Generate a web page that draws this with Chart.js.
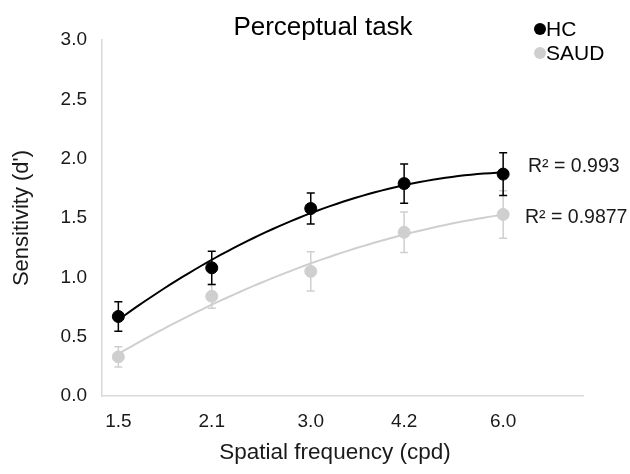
<!DOCTYPE html>
<html>
<head>
<meta charset="utf-8">
<script src="https://cdn.jsdelivr.net/npm/chart.js@4/dist/chart.umd.min.js"></script>
<style>
  html, body { margin: 0; padding: 0; background: #fff; }
  #wrap { width: 630px; height: 474px; }
</style>
</head>
<body>
<div id="wrap"><canvas id="chart" width="630" height="474"></canvas></div>
<script>
// Data
const freqs = [1.5, 2.1, 3.0, 4.2, 6.0];
const hcMean = [0.67, 1.08, 1.58, 1.79, 1.87];
const hcErr = [0.125, 0.14, 0.13, 0.165, 0.18];
const saudMean = [0.33, 0.84, 1.05, 1.38, 1.53];
const saudErr = [0.085, 0.10, 0.165, 0.17, 0.20];
const yTicks = [0, 0.5, 1.0, 1.5, 2.0, 2.5, 3.0];
const hcR2 = 'R² = 0.993';
const saudR2 = 'R² = 0.9877';

const FONT = 'Liberation Sans, Arial, sans-serif';
const hcColor = '#000000';
const saudColor = '#cfcfcf';
const axisColor = '#d9d9d9';
const textColor = '#1a1a1a';

// 2nd order polynomial trendline (in log2 of frequency, as on the axis)
function polyFit(xs, ys) {
    let s = [0, 0, 0, 0, 0], t = [0, 0, 0];
    xs.forEach((x, i) => {
        for (let k = 0; k < 5; k++) s[k] += Math.pow(x, k);
        for (let k = 0; k < 3; k++) t[k] += Math.pow(x, k) * ys[i];
    });
    const m = [[s[0], s[1], s[2], t[0]], [s[1], s[2], s[3], t[1]], [s[2], s[3], s[4], t[2]]];
    for (let i = 0; i < 3; i++) {
        for (let j = i + 1; j < 3; j++) {
            const f = m[j][i] / m[i][i];
            for (let k = i; k < 4; k++) m[j][k] -= f * m[i][k];
        }
    }
    const c = [0, 0, 0];
    for (let i = 2; i >= 0; i--) {
        let v = m[i][3];
        for (let k = i + 1; k < 3; k++) v -= m[i][k] * c[k];
        c[i] = v / m[i][i];
    }
    return c;
}

function trendPoints(means) {
    const lx = freqs.map(f => Math.log2(f));
    const c = polyFit(lx, means);
    const pts = [];
    const a = lx[0], b = lx[lx.length - 1];
    for (let i = 0; i <= 60; i++) {
        const x = a + (b - a) * i / 60;
        pts.push({ x: Math.pow(2, x), y: c[0] + c[1] * x + c[2] * x * x });
    }
    return pts;
}

const toPoints = (means) => freqs.map((f, i) => ({ x: f, y: means[i] }));

// error bars, title, legend, x title and R² labels
const extras = {
    id: 'extras',
    afterDatasetsDraw(chart) {
        const ctx = chart.ctx;
        const xs = chart.scales.x, ys = chart.scales.y;
        const bars = [[saudMean, saudErr, saudColor], [hcMean, hcErr, hcColor]];
        ctx.save();
        bars.forEach(([means, errs, col]) => {
            ctx.strokeStyle = col;
            ctx.lineWidth = 1.5;
            freqs.forEach((f, i) => {
                const px = xs.getPixelForValue(f);
                const top = ys.getPixelForValue(means[i] + errs[i]);
                const bot = ys.getPixelForValue(means[i] - errs[i]);
                ctx.beginPath();
                ctx.moveTo(px, top); ctx.lineTo(px, bot);
                ctx.moveTo(px - 4, top); ctx.lineTo(px + 4, top);
                ctx.moveTo(px - 4, bot); ctx.lineTo(px + 4, bot);
                ctx.stroke();
            });
        });
        ctx.restore();
    },
    afterDraw(chart) {
        const ctx = chart.ctx;
        ctx.save();
        ctx.fillStyle = '#000';
        ctx.font = '26px ' + FONT;
        ctx.textAlign = 'center';
        ctx.textBaseline = 'middle';
        ctx.fillText('Perceptual task', 323, 28);

        ctx.fillStyle = textColor;
        ctx.font = '22.5px ' + FONT;
        ctx.fillText('Spatial frequency (cpd)', 335, 453);

        // legend
        ctx.font = '21px ' + FONT;
        ctx.textAlign = 'left';
        [['HC', hcColor, 29], ['SAUD', saudColor, 53]].forEach(([lab, col, y]) => {
            ctx.fillStyle = col;
            ctx.beginPath();
            ctx.arc(540, y, 6, 0, Math.PI * 2);
            ctx.fill();
            ctx.fillStyle = '#000';
            ctx.fillText(lab, 546, y + 1);
        });

        // R² labels
        ctx.fillStyle = textColor;
        ctx.font = '19.5px ' + FONT;
        ctx.fillText(hcR2, 528, 167);
        ctx.fillText(saudR2, 525, 218);
        ctx.restore();
    }
};

new Chart(document.getElementById('chart'), {
    type: 'scatter',
    data: {
        datasets: [
            {
                label: 'HC trend', type: 'line', data: trendPoints(hcMean),
                borderColor: hcColor, borderWidth: 2, pointRadius: 0, fill: false, order: 3
            },
            {
                label: 'SAUD trend', type: 'line', data: trendPoints(saudMean),
                borderColor: saudColor, borderWidth: 2, pointRadius: 0, fill: false, order: 4
            },
            {
                label: 'HC', data: toPoints(hcMean),
                backgroundColor: hcColor, borderColor: hcColor, pointRadius: 6, order: 1
            },
            {
                label: 'SAUD', data: toPoints(saudMean),
                backgroundColor: saudColor, borderColor: saudColor, pointRadius: 6, order: 2
            }
        ]
    },
    options: {
        responsive: false,
        animation: false,
        layout: { padding: { top: 40, right: 47, left: 0, bottom: 0 } },
        plugins: {
            legend: { display: false },
            tooltip: { enabled: false }
        },
        scales: {
            x: {
                type: 'logarithmic',
                min: Math.SQRT2,
                max: 8,
                afterBuildTicks: axis => { axis.ticks = freqs.map(v => ({ value: v })); },
                afterFit: axis => { axis.height = 78; },
                grid: { display: false, drawTicks: false },
                border: { color: axisColor, width: 1.5 },
                ticks: {
                    padding: 14,
                    color: textColor,
                    font: { family: FONT, size: 19 },
                    callback: v => Number(v).toFixed(1),
                    autoSkip: false, maxRotation: 0
                }
            },
            y: {
                min: 0,
                max: 3,
                afterBuildTicks: axis => { axis.ticks = yTicks.map(v => ({ value: v })); },
                afterFit: axis => { axis.width = 102; },
                grid: { display: false, drawTicks: false },
                border: { color: axisColor, width: 1.5 },
                ticks: {
                    padding: 15,
                    color: textColor,
                    font: { family: FONT, size: 19 },
                    callback: v => Number(v).toFixed(1)
                },
                title: {
                    display: true,
                    text: "Sensitivity (d')",
                    color: textColor,
                    font: { family: FONT, size: 22 },
                    padding: { top: 9, bottom: 0 }
                }
            }
        }
    },
    plugins: [extras]
});
</script>
</body>
</html>
